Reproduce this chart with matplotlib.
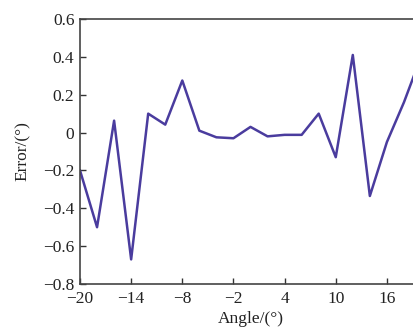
import matplotlib
matplotlib.use('Agg')
import matplotlib.pyplot as plt

# data
angle = [-20, -18, -16, -14, -12, -10, -8, -6, -4, -2, 0, 2, 4, 6, 8, 10, 12, 14, 16, 18, 20]
error = [-0.20, -0.50, 0.063, -0.67, 0.10, 0.042, 0.275, 0.01, -0.025, -0.03, 0.03,
         -0.02, -0.012, -0.012, 0.10, -0.13, 0.41, -0.335, -0.05, 0.16, 0.40]
xticks = [-20, -14, -8, -2, 4, 10, 16]
yticks = [-0.8, -0.6, -0.4, -0.2, 0, 0.2, 0.4, 0.6]

plt.rcParams['font.family'] = ['Liberation Serif', 'DejaVu Serif']

fig = plt.figure(figsize=(4.14, 3.36), dpi=100)
ax = fig.add_axes([80 / 414, 1 - 284 / 336, 341 / 414, 265 / 336])

ax.plot(angle, error, color='#4a3c9e', linewidth=1.8)

ax.set_xlim(-20, 20)
ax.set_ylim(-0.8, 0.6)
ax.set_xticks(xticks)
ax.set_yticks(yticks)
ax.set_yticklabels(['\u22120.8', '\u22120.6', '\u22120.4', '\u22120.2', '0', '0.2', '0.4', '0.6'])
ax.set_xticklabels([str(t).replace('-', '\u2212') for t in xticks])
ax.tick_params(direction='in', labelsize=12.5, length=4, width=1, colors='#333333',
               labelcolor='#222222')
ax.tick_params(axis='x', pad=5)
ax.tick_params(axis='y', pad=4)
for s in ax.spines.values():
    s.set_color('#444444')
    s.set_linewidth(1.2)
ax.spines['right'].set_visible(False)

ax.set_xlabel('Angle/(°)', fontsize=12.5, color='#222222', labelpad=3)
ax.set_ylabel('Error/(°)', fontsize=12.5, color='#222222', labelpad=9)

fig.savefig('out.png', dpi=100)
